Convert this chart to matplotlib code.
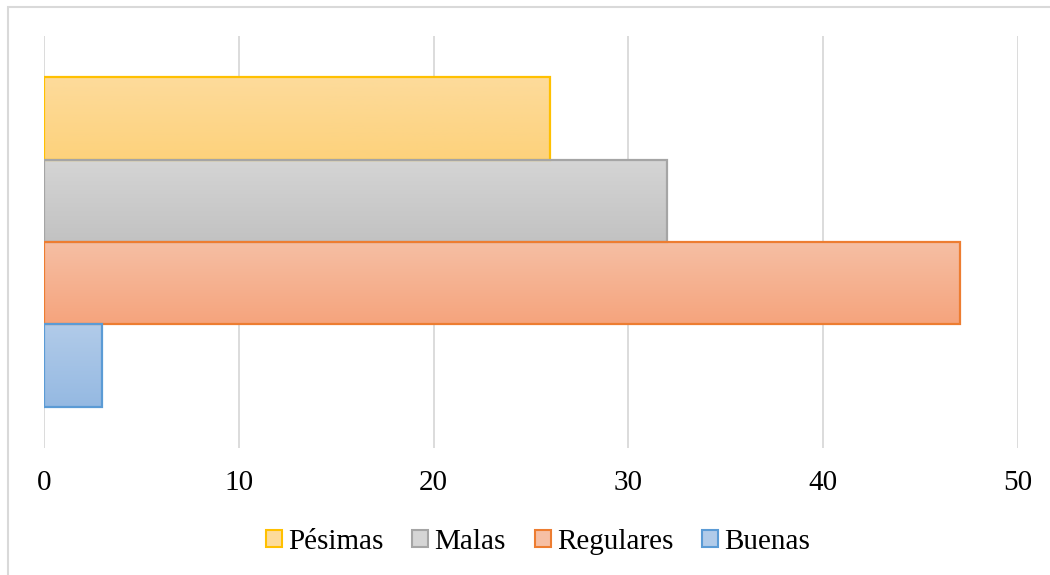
import numpy as np
import matplotlib.pyplot as plt
import matplotlib.colors as mcolors
from matplotlib.patches import Rectangle, Patch

# datos
series = ['Pésimas', 'Malas', 'Regulares', 'Buenas']
valores = [26, 32, 47, 3]
xticks = [0, 10, 20, 30, 40, 50]

# colores: (arriba, abajo, borde)
col_top = ['#FDDB9B', '#D5D5D5', '#F6BFA4', '#B1CBE9']
col_bot = ['#FDD27C', '#C2C2C2', '#F5A47D', '#95B9E2']
col_edge = ['#FFC000', '#A5A5A5', '#ED7D31', '#5B9BD5']

plt.rcParams['font.family'] = ['Liberation Serif', 'DejaVu Serif']

fig = plt.figure(figsize=(10.5, 5.75), dpi=100)
ax = fig.add_axes([44/1050, 1-448/575, 974/1050, 412/575])

# posiciones de las barras (una categoria, 4 series agrupadas)
n = len(series)
ancho = 1.0 / (n + 1)
pos = [0.5 - (i + 0.5) * ancho + n * ancho / 2 for i in range(n)]

barras = ax.barh(pos, valores, height=ancho, color='none',
                 edgecolor=col_edge, linewidth=1.6, zorder=3)

# relleno degradado
for b, ct, cb in zip(barras, col_top, col_bot):
    x0, y0 = b.get_x(), b.get_y()
    w, h = b.get_width(), b.get_height()
    cmap = mcolors.LinearSegmentedColormap.from_list('g', [cb, ct])
    grad = np.linspace(0, 1, 64).reshape(-1, 1)
    ax.imshow(grad, extent=[x0, x0 + w, y0, y0 + h], origin='lower',
              cmap=cmap, aspect='auto', zorder=2)

ax.set_xlim(0, 50)
ax.set_ylim(0, 1)
ax.set_xticks(xticks)
ax.set_yticks([])
ax.grid(axis='x', color='#D9D9D9', linewidth=1.3, zorder=0)
for s in ax.spines.values():
    s.set_visible(False)
ax.tick_params(axis='x', length=0, labelsize=21, pad=16)

handles = [Patch(facecolor=ct, edgecolor=ce, linewidth=1.5)
           for ct, ce in zip(col_top, col_edge)]
fig.legend(handles, series, loc='center', bbox_to_anchor=(538/1050, 1-542/575),
           ncol=4, frameon=False, fontsize=21, handlelength=0.55,
           handleheight=0.55, handletextpad=0.2, columnspacing=1.0)

# borde del grafico
fig.patches.append(Rectangle((8/1050, -0.1), 1.2, 1.1 - 7/575,
                             transform=fig.transFigure, fill=False,
                             edgecolor='#D9D9D9', linewidth=1.5))

fig.savefig('out.png', dpi=100)
